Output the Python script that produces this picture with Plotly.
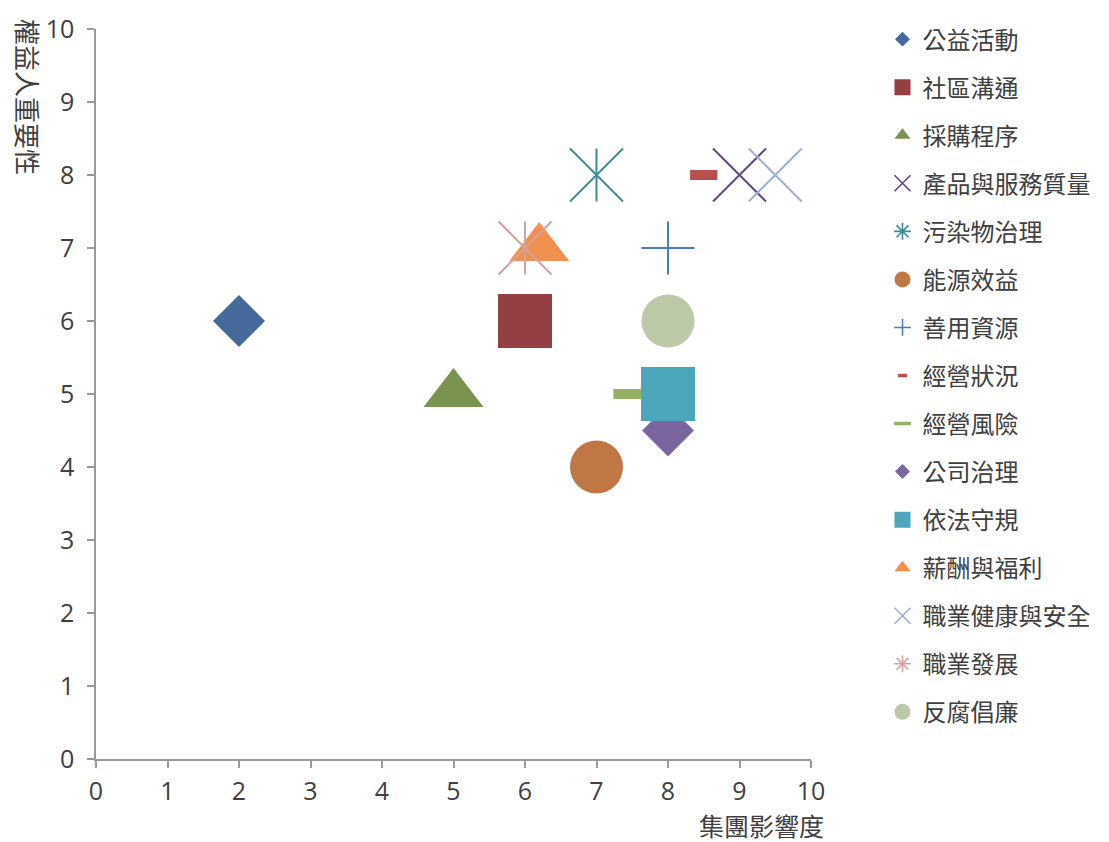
import plotly.graph_objects as go

# 重大性議題：集團影響度 (x) 與 權益人重要性 (y)
topics = ["公益活動", "社區溝通", "採購程序", "產品與服務質量", "污染物治理",
          "能源效益", "善用資源", "經營狀況", "經營風險", "公司治理",
          "依法守規", "薪酬與福利", "職業健康與安全", "職業發展", "反腐倡廉"]
impact = [2, 6, 5, 9, 7, 7, 8, 8.5, 7.5, 8, 8, 6.2, 9.5, 6, 8]
importance = [6, 6, 5, 8, 8, 4, 7, 8, 5, 4.5, 5, 7, 8, 7, 6]

colors = ["#45699B", "#943F43", "#7A9350", "#5E4A7C", "#3E8A99",
          "#C17743", "#4A7EBB", "#B9504F", "#95B163", "#7B66A0",
          "#4BA6BA", "#F09150", "#9DB1D2", "#D5A0A0", "#BBC9A8"]

# marker style per series: (plot symbol, plot size, line width, legend symbol, legend size, legend line width)
styles = [
    ("diamond", 40, 0, "diamond", 11.5, 0),
    ("square", 54, 0, "square", 16, 0),
    ("triangle-up", 52, 0, "triangle-up", 14, 0),
    ("x-thin", 53, 2, "x-thin", 16, 1.6),
    ("asterisk", 53, 2, "asterisk", 14, 1.6),
    ("circle", 53, 0, "circle", 16, 0),
    ("cross-thin", 38, 2, "cross-thin", 12, 1.6),
    ("line-ew", 19.5, 10, "line-ew", 6.4, 3.5),
    ("line-ew", 27, 10, "line-ew", 12, 3.5),
    ("diamond", 40, 0, "diamond", 11.5, 0),
    ("square", 54, 0, "square", 16, 0),
    ("triangle-up", 52, 0, "triangle-up", 14, 0),
    ("x-thin", 53, 2, "x-thin", 16, 1.6),
    ("asterisk", 53, 2, "asterisk", 14, 1.6),
    ("circle", 53, 0, "circle", 16, 0),
]

FONT_NUM = "Open Sans, Noto Sans CJK TC, sans-serif"
FONT_CJK = "Noto Sans CJK TC, sans-serif"
TEXT = "#404040"
AXIS = "#9A9A9A"

fig = go.Figure()

# data points (legend entries added separately with small symbols)
for i, name in enumerate(topics):
    sym, size, lw, _, _, _ = styles[i]
    c = colors[i]
    if sym == "asterisk":
        # eight-spoke star: diagonal cross plus vertical bar of equal reach
        parts = [("x-thin", size), ("line-ns", size / 1.4)]
    else:
        parts = [(sym, size)]
    for p, s in parts:
        fig.add_trace(go.Scatter(
            x=[impact[i]], y=[importance[i]], mode="markers",
            name=name, legendgroup=name, showlegend=False,
            cliponaxis=False,
            marker=dict(symbol=p, size=s, color=c,
                        line=dict(width=lw, color=c)),
            hovertemplate=name + "<br>集團影響度 %{x}<br>權益人重要性 %{y}<extra></extra>",
        ))

# legend entries
for i, name in enumerate(topics):
    _, _, _, lsym, lsize, llw = styles[i]
    c = colors[i]
    fig.add_trace(go.Scatter(
        x=[None], y=[None], mode="markers", name=name,
        legendgroup=name, showlegend=True,
        marker=dict(symbol=lsym, size=lsize, color=c,
                    line=dict(width=llw, color=c)),
    ))

axis_common = dict(
    range=[0, 10], dtick=1, tick0=0,
    showgrid=False, zeroline=False,
    showline=True, linecolor=AXIS, linewidth=1.5,
    ticks="outside", ticklen=7, tickwidth=1.5, tickcolor=AXIS,
    tickfont=dict(family=FONT_NUM, size=25, color=TEXT),
    fixedrange=True,
)

fig.update_xaxes(**axis_common, ticklabelstandoff=2)
fig.update_yaxes(**axis_common, ticklabelstandoff=8)

fig.add_annotation(
    text="集團影響度", xref="paper", yref="paper", x=1, y=0,
    xanchor="right", yanchor="middle", xshift=15, yshift=-66,
    showarrow=False, font=dict(family=FONT_CJK, size=25, color=TEXT),
)
fig.add_annotation(
    text="權益人重要性", xref="paper", yref="paper", x=0, y=0.9068,
    xanchor="center", yanchor="middle", xshift=-67, textangle=90,
    showarrow=False, font=dict(family=FONT_CJK, size=26, color=TEXT),
)

fig.update_layout(
    width=1109, height=842, autosize=False,
    margin=dict(l=96, r=298, t=29, b=83),
    paper_bgcolor="white", plot_bgcolor="white",
    showlegend=True,
    legend=dict(
        x=1.1, xanchor="left", y=1.0164, yanchor="top",
        font=dict(family=FONT_CJK, size=24, color=TEXT),
        tracegroupgap=13.85, itemsizing="trace", maxheight=842,
        bgcolor="rgba(0,0,0,0)",
    ),
)

fig.write_html("out.html")
